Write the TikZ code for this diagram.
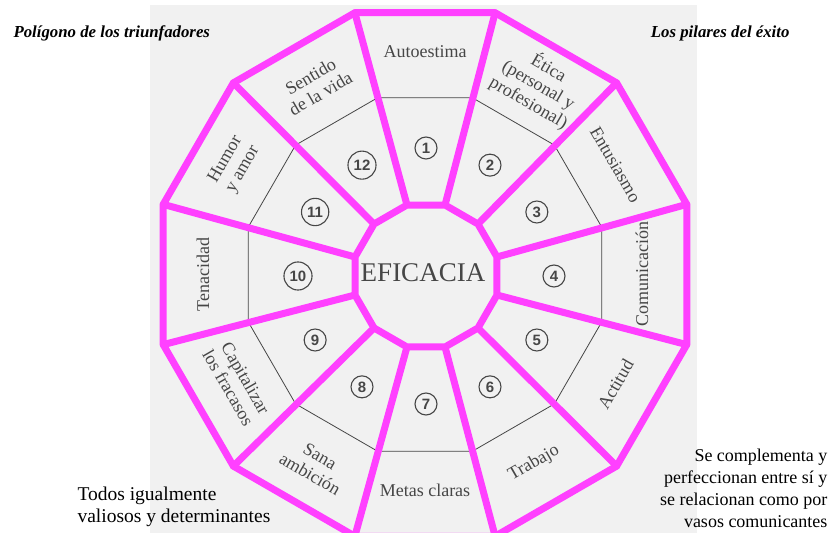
\documentclass[tikz,border=0pt]{standalone}
\usepackage{fontspec}
\setmainfont{Liberation Serif}
\setsansfont{Liberation Sans}
\usepackage{tikz}
\usetikzlibrary{calc}

\definecolor{pilarpink}{RGB}{255,64,255}
\definecolor{scan}{RGB}{241,241,241}
\definecolor{ink}{RGB}{70,70,70}

\begin{document}
\begin{tikzpicture}[x=1pt, y=1pt,
    pilar/.style={font=\fontsize{18}{20}\selectfont, text=ink, align=center, inner sep=1pt},
    num/.style={circle, draw=ink, line width=1.1pt, minimum size=22pt, inner sep=3pt, font=\sffamily\bfseries\fontsize{15}{15}\selectfont, text=ink},
    ring/.style={draw=ink, line width=0.8pt},
    spoke/.style={draw=pilarpink, line width=7pt, line cap=round, line join=round},
    title/.style={font=\fontsize{16.8}{18}\selectfont\bfseries\itshape},
    remark/.style={font=\fontsize{19.5}{22}\selectfont, align=left},
    remarkr/.style={font=\fontsize{18}{22}\selectfont, align=right}
]

\useasboundingbox (0,0) rectangle (831,533);
\clip (0,0) rectangle (831,533);

% Scanned page
\fill[white] (0,0) rectangle (831,533);
\fill[scan] (150,0) rectangle (697,528);

% Corners of the three polygons
\coordinate (c) at (425,258.5);
\coordinate (ci) at (426,257);
\foreach \k in {1,...,12} {
  \coordinate (out\k) at ($(c)+({135-30*\k}:271)$);
  \coordinate (mid\k) at ($(c)+({135-30*\k}:183)$);
  \coordinate (in\k) at ($(ci)+({135-30*\k}:73.5)$);
}

% Middle ring
\draw[ring] (mid1) \foreach \k in {2,...,12} {-- (mid\k)} -- cycle;

% Pillars
\foreach \k in {1,...,12}
  \draw[spoke] (in\k) -- (out\k);
\draw[spoke] (out1) \foreach \k in {2,...,12} {-- (out\k)} -- cycle;
\draw[spoke, fill=scan] (in1) \foreach \k in {2,...,12} {-- (in\k)} -- cycle;

% Center
\node[font=\fontsize{27}{27}\selectfont, text=ink] (eficacia) at (423,260) {EFICACIA};

% Numbers
\foreach \k in {1,...,12}
  \node[num] (n\k) at ($(ci)+({120-30*\k}:128)$) {\k};

% Outer labels
\node[pilar] (autoestima) at ($(c)+(90:223)$) {Autoestima};
\node[pilar, rotate=-30] (etica) at ($(c)+(59:221)$) {Ética\\(personal y\\profesional)};
\node[pilar, rotate=-60] (entusiasmo) at ($(c)+(30:220)$) {Entusiasmo};
\node[pilar, rotate=90] (comunicacion) at ($(c)+(0:217)$) {Comunicación};
\node[pilar, rotate=60] (actitud) at ($(c)+(-30:220)$) {Actitud};
\node[pilar, rotate=30] (trabajo) at ($(c)+(-60:218)$) {Trabajo};
\node[pilar] (metas) at ($(c)+(-90:216)$) {Metas claras};
\node[pilar, rotate=-30] (ambicion) at ($(c)+(-120:220)$) {Sana\\ambición};
\node[pilar, rotate=-60] (fracasos) at ($(c)+(-150:217)$) {Capitalizar\\los fracasos};
\node[pilar, rotate=90] (tenacidad) at ($(c)+(180:222)$) {Tenacidad};
\node[pilar, rotate=60] (humor) at ($(c)+(150:220)$) {Humor\\y amor};
\node[pilar, rotate=30] (sentido) at ($(c)+(120:219)$) {Sentido\\de la vida};

% Side notes
\node[title, anchor=west] (poligono) at (10,500) {Polígono de los triunfadores};
\node[title, anchor=east] (pilares) at (793,500) {Los pilares del éxito};
\node[remark, anchor=west] (todos) at (74,26) {Todos igualmente\\valiosos y determinantes};
\node[remarkr, anchor=east] (vasos) at (831,45) {Se complementa y\\perfeccionan entre sí y\\se relacionan como por\\vasos comunicantes};

\end{tikzpicture}
\end{document}
